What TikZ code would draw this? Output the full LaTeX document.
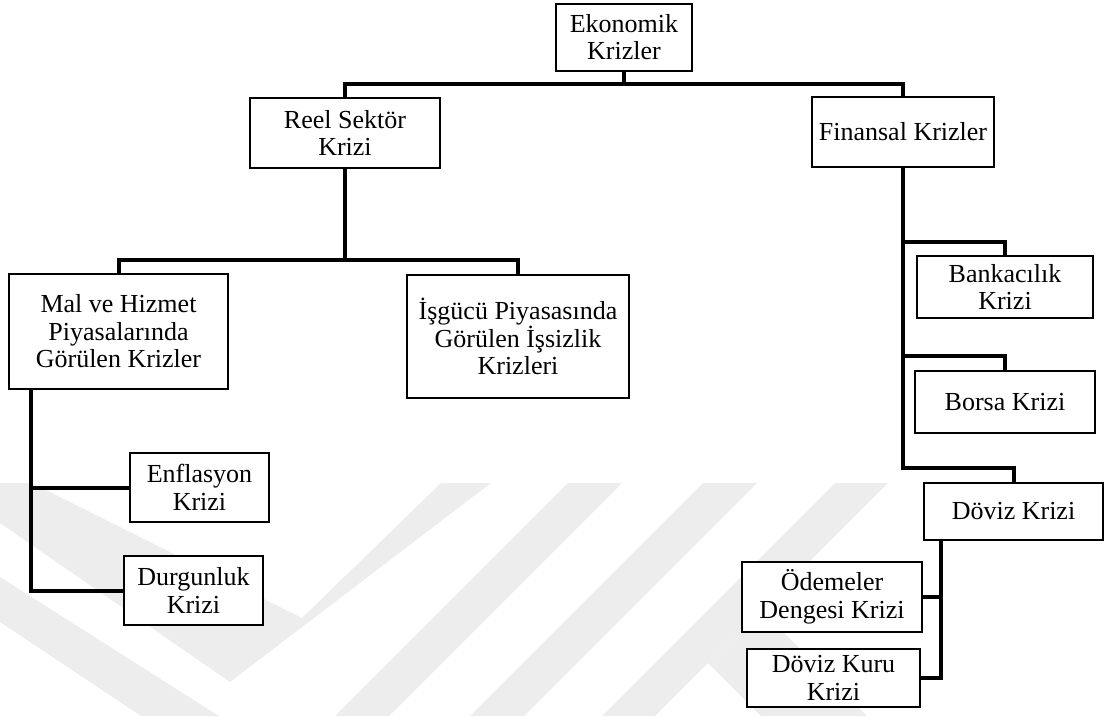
\documentclass[tikz,border=0pt]{standalone}
\usepackage{fontspec}
\setmainfont{Liberation Serif}
\definecolor{emblem}{RGB}{237,237,237}
\begin{document}
\begin{tikzpicture}[x=1pt,y=-1pt,
  box/.style={draw=black, line width=2pt, fill=white, inner sep=0pt,
    align=center, font=\fontsize{26}{27.5}\selectfont},
  link/.style={draw=black, line width=4pt}]
\useasboundingbox (0,0) rectangle (1106,716);

% faint background emblem
\begin{scope}
\clip (0,483) rectangle (1106,716);
\fill[emblem] (0,483) -- (32,483) -- (302,618) -- (441,483) -- (491,483)
  -- (230,682) -- (0,523) -- cycle;
\fill[emblem] (0,577) -- (219,716) -- (141,716) -- (0,622) -- cycle;
\fill[emblem] (568,483) -- (622,483) -- (389,716) -- (335,716) -- cycle;
\fill[emblem] (703,483) -- (757,483) -- (524,716) -- (470,716) -- cycle;
\fill[emblem] (835,483) -- (888,483) -- (655,716) -- (602,716) -- cycle;
\fill[emblem] (761,610) -- (867,716) -- (761,716) -- (708,663) -- cycle;
\end{scope}

% boxes
\node[box, minimum width=136pt, minimum height=67pt] (eko) at (624,37) {Ekonomik\\Krizler};
\node[box, minimum width=190pt, minimum height=70pt] (reel) at (345,133) {Reel Sektör\\Krizi};
\node[box, minimum width=182pt, minimum height=70pt] (fin) at (903,132) {Finansal Krizler};
\node[box, minimum width=219pt, minimum height=115pt] (mal) at (118.5,331.5) {Mal ve Hizmet\\Piyasalarında\\Görülen Krizler};
\node[box, minimum width=222pt, minimum height=123pt] (isg) at (518,336.5) {İşgücü Piyasasında\\Görülen İşsizlik\\Krizleri};
\node[box, minimum width=139pt, minimum height=69pt] (enf) at (199.5,487.5) {Enflasyon\\Krizi};
\node[box, minimum width=139pt, minimum height=69pt] (dur) at (193.5,590.5) {Durgunluk\\Krizi};
\node[box, minimum width=176pt, minimum height=62pt] (bank) at (1005,287) {Bankacılık\\Krizi};
\node[box, minimum width=180pt, minimum height=62pt] (borsa) at (1005,402) {Borsa Krizi};
\node[box, minimum width=179pt, minimum height=57pt] (doviz) at (1013.5,511.5) {Döviz Krizi};
\node[box, minimum width=180pt, minimum height=70pt] (odeme) at (832,597) {Ödemeler\\Dengesi Krizi};
\node[box, minimum width=173pt, minimum height=58pt] (kuru) at (833.5,678) {Döviz Kuru\\Krizi};

% junction points
\coordinate (t1) at (624,84);
\coordinate (r1) at (345,260);
\coordinate (fb) at (903,242);
\coordinate (fs) at (903,356);
\coordinate (fd) at (903,468);
\coordinate (m0) at ([xshift=23pt]mal.south west);
\coordinate (d0) at ([xshift=18pt]doviz.south west);

% connectors
\draw[link] (eko.south) -- (t1);
\draw[link] (reel.north) |- (t1) -| (fin.north);
\draw[link] (reel.south) -- (r1);
\draw[link] (mal.north) |- (r1) -| (isg.north);
\draw[link] (m0) |- (dur.west);
\draw[link] (enf.west) -- (enf.west -| m0);
\draw[link] (fin.south) -- (fd) -| (doviz.north);
\draw[link] (fb) -| (bank.north);
\draw[link] (fs) -| (borsa.north);
\draw[link] (d0) |- (kuru.east);
\draw[link] (odeme.east) -- (odeme.east -| d0);
\end{tikzpicture}
\end{document}
